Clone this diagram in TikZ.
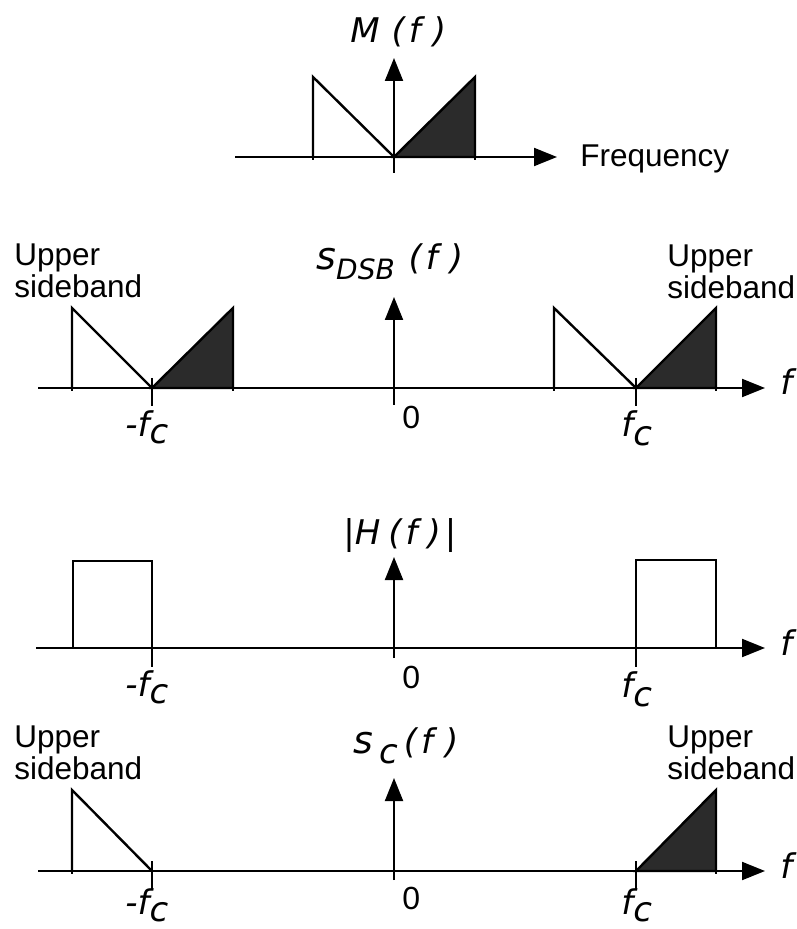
\documentclass[tikz,border=0pt]{standalone}
\usepackage{fontspec}
\setmainfont{Liberation Sans}
\newfontfamily\labf{DejaVu Sans}
\usetikzlibrary{arrows.meta}
\definecolor{bandgray}{HTML}{2B2B2B}
\newcommand{\Lbf}{\labf\itshape\fontsize{17}{17}\selectfont}
\newcommand{\SubSz}[1]{{\fontsize{17}{17}\selectfont #1}}
\newcommand{\BigS}{{\fontsize{19}{19}\selectfont s}}
\begin{document}
\begin{tikzpicture}[x=0.5pt,y=-0.5pt,
  axisline/.style={line width=1pt,-{Triangle[length=11.5pt,width=9pt]}},
  band/.style={line width=1.2pt,line join=miter},
  fillband/.style={fill=bandgray,draw=black,line width=1.2pt,line join=miter},
  tickmark/.style={line width=1pt},
  txt/.style={inner sep=0pt,font=\fontsize{15.75}{16}\selectfont,align=left},
  lab/.style={inner sep=0pt,anchor=base west,font=\Lbf},
  zero/.style={inner sep=0pt,anchor=base west,font=\fontsize{16}{16}\selectfont}]
\useasboundingbox (0,0) rectangle (796,929);

% ---------------- Panel 1: M(f)
\coordinate (a1s) at (235,157);
\coordinate (a1e) at (557,157);
\coordinate (v1b) at (394,173);
\coordinate (v1t) at (394,58);
\draw[axisline] (a1s) -- (a1e);
\draw[axisline] (v1b) -- (v1t);
\draw[fillband] (394,157) -- (475,77) -- (475,157) -- cycle;
\draw[band] (313,157) -- (313,77) -- (394,157);
\draw[tickmark] (313,157) -- (313,160);
\draw[tickmark] (475,157) -- (475,160);
\node[lab] (m1) at (350,43) {M\hspace{6pt}(\hspace{2pt}f\hspace{6pt})};
\node[txt,anchor=base west] (freq) at (580,167) {Frequency};

% ---------------- Panel 2: S_DSB(f)
\coordinate (a2s) at (38,388);
\coordinate (a2e) at (765,388);
\coordinate (v2b) at (394,405);
\coordinate (v2t) at (394,297);
\draw[axisline] (a2s) -- (a2e);
\draw[axisline] (v2b) -- (v2t);
\draw[fillband] (152,388) -- (233,308) -- (233,388) -- cycle;
\draw[band] (72,388) -- (72,308) -- (152,388);
\draw[fillband] (636,388) -- (716,308) -- (716,388) -- cycle;
\draw[band] (554,388) -- (554,308) -- (636,388);
\foreach \x in {72,233,554,716} \draw[tickmark] (\x,388) -- (\x,391);
\draw[tickmark] (152,378) -- (152,406);
\draw[tickmark] (636,378) -- (636,406);
\node[txt,anchor=north west] (us2l) at (14,243) {Upper\\sideband};
\node[txt,anchor=north west] (us2r) at (667,244) {Upper\\sideband};
\node[lab] (s2) at (316,270) {\BigS\raisebox{-5pt}{\fontsize{14}{14}\selectfont DSB}\hspace{7pt}(\hspace{2pt}f\hspace{6pt})};
\node[lab] (fcl2) at (125,437) {-f\raisebox{-3.5pt}{\SubSz{c}}};
\node[lab] (fcr2) at (621,437) {f\raisebox{-4.5pt}{\SubSz{c}}};
\node[zero] (z2) at (402,429) {0};
\node[lab] (f2) at (780,395) {f};

% ---------------- Panel 3: |H(f)|
\coordinate (a3s) at (36,648);
\coordinate (a3e) at (765,648);
\coordinate (v3b) at (394,658);
\coordinate (v3t) at (394,557);
\draw[axisline] (a3s) -- (a3e);
\draw[axisline] (v3b) -- (v3t);
\draw[band] (73,648) -- (73,561) -- (152,561) -- (152,648);
\draw[band] (636,648) -- (636,560) -- (716,560) -- (716,648);
\draw[tickmark] (152,648) -- (152,667);
\draw[tickmark] (636,648) -- (636,667);
\node[lab] (h3) at (343,544) {|H\hspace{4pt}(\hspace{2pt}f\hspace{5pt})\hspace{2pt}|};
\node[lab] (fcl3) at (125,696) {-f\raisebox{-3.5pt}{\SubSz{c}}};
\node[lab] (fcr3) at (621,697) {f\raisebox{-4.5pt}{\SubSz{c}}};
\node[zero] (z3) at (402,688) {0};
\node[lab] (f3) at (780,655) {f};

% ---------------- Panel 4: S_c(f)
\coordinate (a4s) at (38,871);
\coordinate (a4e) at (765,871);
\coordinate (v4b) at (394,880);
\coordinate (v4t) at (394,778);
\draw[axisline] (a4s) -- (a4e);
\draw[axisline] (v4b) -- (v4t);
\draw[band] (72,871) -- (72,790) -- (152,871);
\draw[fillband] (636,871) -- (716,790) -- (716,871) -- cycle;
\draw[tickmark] (72,871) -- (72,874);
\draw[tickmark] (716,871) -- (716,874);
\draw[tickmark] (152,861) -- (152,889);
\draw[tickmark] (636,861) -- (636,889);
\node[txt,anchor=north west] (us4l) at (14,725) {Upper\\sideband};
\node[txt,anchor=north west] (us4r) at (667,725) {Upper\\sideband};
\node[lab] (s4) at (353,753) {\BigS\hspace{3pt}\raisebox{-5pt}{\SubSz{c}}\hspace{3pt}(\hspace{2pt}f\hspace{6pt})};
\node[lab] (fcl4) at (125,914) {-f\raisebox{-3.5pt}{\SubSz{c}}};
\node[lab] (fcr4) at (621,914) {f\raisebox{-3.5pt}{\SubSz{c}}};
\node[zero] (z4) at (402,909) {0};
\node[lab] (f4) at (780,878) {f};
\end{tikzpicture}
\end{document}
